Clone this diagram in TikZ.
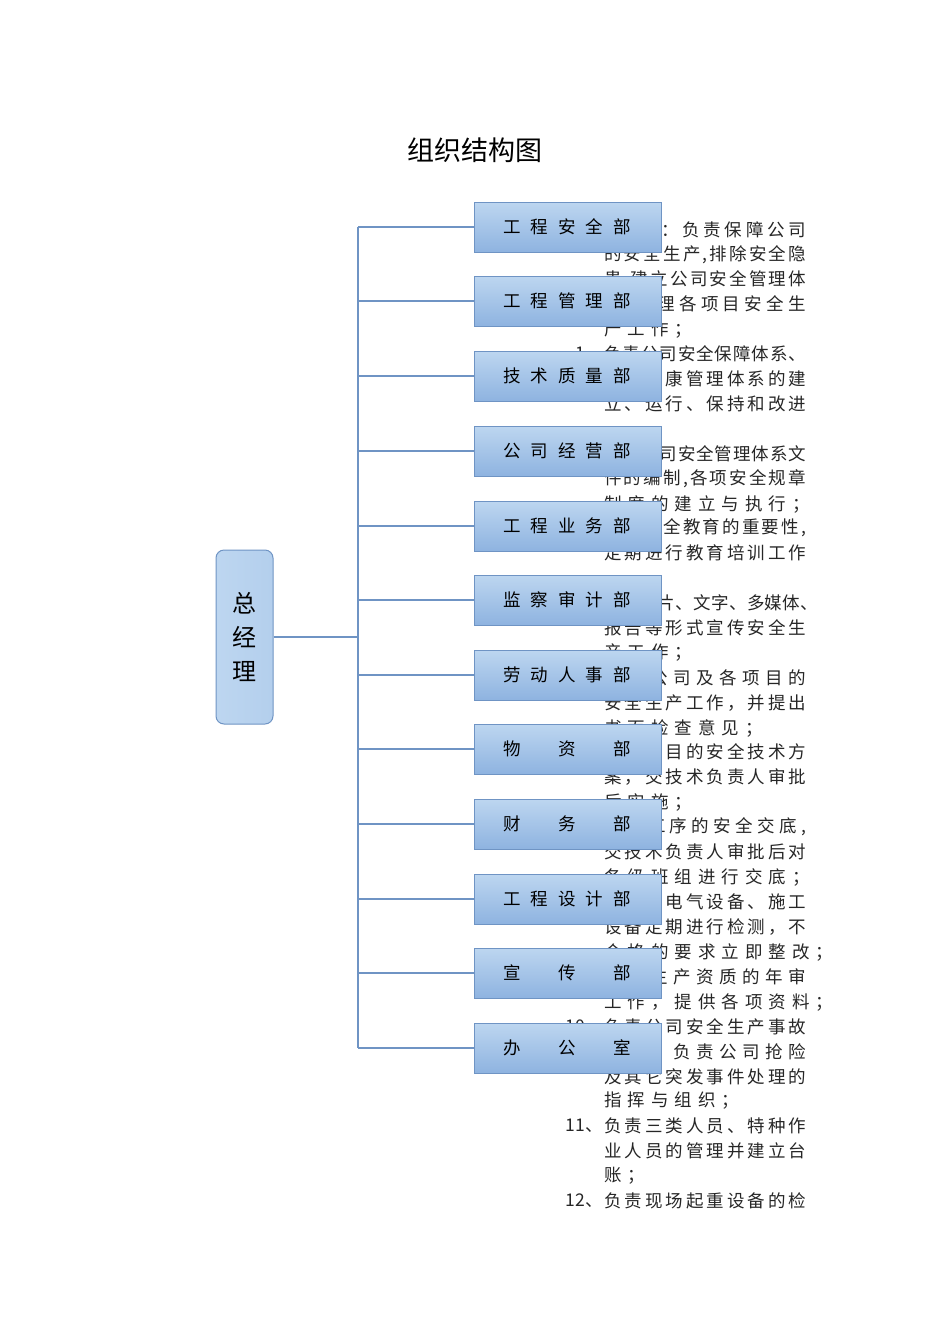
\documentclass[tikz,border=0pt]{standalone}
\usepackage{fontspec}
\newfontfamily\cjk{Noto Sans CJK SC}
\def\spx#1{\ifx#1\relax\else\hfil#1\expandafter\spx\fi}
\def\spfirst#1{#1\spx}
\newcommand\spreadw[2]{\makebox[#1][s]{\spfirst#2\relax}}
\newcommand\spreadx[2]{\makebox[#1][s]{\expandafter\spfirst#2\relax}}
\def\fx#1{\ifx#1\relax\else\makebox[23.5pt][l]{#1}\expandafter\fx\fi}
\newcommand\fixed[1]{\fx#1\relax}
\definecolor{boxtop}{HTML}{BDD6F0}
\definecolor{boxbot}{HTML}{8EB3E0}
\definecolor{boxline}{HTML}{6F94C4}
\newcommand\myfl[2]{\node[txt,anchor=west] at (604,#1) {\spreadw{202pt}{#2}};}
\newcommand\mysl[2]{\node[txt,anchor=west] at (604,#1) {\fixed{#2}};}
\newcommand\mynm[2]{\node[txt,anchor=east] at (603,#1) {#2};}
\begin{document}
\begin{tikzpicture}[x=1pt,y=-1pt,
  txt/.style={font=\cjk\fontsize{17.5}{20}\selectfont,inner sep=0pt,text=black!85},
  dept/.style={draw=boxline,line width=1pt,top color=boxtop,bottom color=boxbot,minimum width=187pt,minimum height=50pt,inner sep=0pt,font=\cjk\fontsize{17.5}{20}\selectfont},
  conn/.style={draw=boxline,line width=1.2pt}]
\useasboundingbox (0,0) rectangle (950,1344);
\node[font=\cjk\fontsize{27}{30}\selectfont] (title) at (475,150) {组织结构图};
\node[txt,anchor=east] at (806,230) {\spreadw{250pt}{工程安全部：负责保障公司}};
\myfl{255}{的安全生产,排除安全隐}
\myfl{280}{患,建立公司安全管理体}
\myfl{305}{系,管理各项目安全生}
\mysl{330}{产工作；}
\mynm{354}{1、}\myfl{354}{负责公司安全保障体系、}
\myfl{379}{职业健康管理体系的建}
\myfl{404}{立、运行、保持和改进}
\mynm{454}{2、}\myfl{454}{负责公司安全管理体系文}
\myfl{479}{件的编制,各项安全规章}
\mysl{504}{制度的建立与执行；}
\mynm{528}{3、}\myfl{528}{明确安全教育的重要性,}
\myfl{553}{定期进行教育培训工作}
\mynm{603}{4、}\node[txt,anchor=west] at (604,603) {\spreadw{214pt}{通过图片、文字、多媒体、}};
\myfl{628}{报告等形式宣传安全生}
\mysl{653}{产工作；}
\mynm{678}{5、}\myfl{678}{检查公司及各项目的}
\myfl{703}{安全生产工作，并提出}
\mysl{728}{书面检查意见；}
\mynm{752}{6、}\myfl{752}{编制项目的安全技术方}
\myfl{777}{案，交技术负责人审批}
\mysl{802}{后实施；}
\mynm{827}{7、}\myfl{827}{编制工序的安全交底,}
\myfl{852}{交技术负责人审批后对}
\mysl{877}{各级班组进行交底；}
\mynm{902}{8、}\myfl{902}{现场的电气设备、施工}
\myfl{927}{设备定期进行检测，不}
\mysl{952}{合格的要求立即整改；}
\mynm{977}{9、}\myfl{977}{安全生产资质的年审}
\mysl{1002}{工作，提供各项资料；}
\mynm{1027}{10、}\myfl{1027}{负责公司安全生产事故}
\myfl{1052}{处理，负责公司抢险}
\myfl{1077}{及其它突发事件处理的}
\mysl{1101}{指挥与组织；}
\mynm{1126}{11、}\myfl{1126}{负责三类人员、特种作}
\myfl{1151}{业人员的管理并建立台}
\mysl{1176}{账；}
\mynm{1201}{12、}\myfl{1201}{负责现场起重设备的检}
\node[draw=boxline,line width=1pt,rounded corners=8pt,left color=boxtop,right color=boxtop!80!boxbot,minimum width=57pt,minimum height=174pt,font=\cjk\fontsize{24}{34}\selectfont,align=center] (gm) at (244.5,637) {总\\经\\理};
\coordinate (jn) at (358,637);
\draw[conn] (gm.east) -- (jn);
\foreach \i/\y/\t in {1/227/工程安全部,2/301/工程管理部,3/376/技术质量部,4/451/公司经营部,5/526/工程业务部,6/600/监察审计部,7/675/劳动人事部,8/749/物资部,9/824/财务部,10/899/工程设计部,11/973/宣传部,12/1048/办公室}{
  \node[dept] (d\i) at (567.5,\y) {\hspace*{1pt}\spreadx{128pt}{\t}\hspace*{2pt}};
  \coordinate (b\i) at (358,\y);
  \draw[conn] (b\i) -- (d\i.west);
}
\draw[conn] (b1) -- (b12);
\end{tikzpicture}
\end{document}
